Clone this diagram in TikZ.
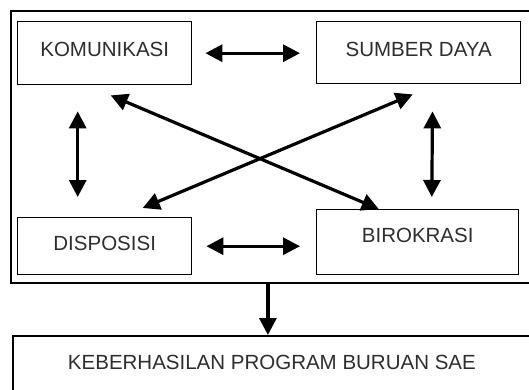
\documentclass[tikz,border=0pt]{standalone}
\usepackage{fontspec}
\setmainfont{Liberation Sans}
\usepackage{tikz}
\usetikzlibrary{arrows.meta}
\definecolor{txt}{rgb}{0.18, 0.18, 0.18}
\tikzstyle{every box node}=[draw, rectangle, inner sep=0pt, line width=1.4pt, anchor=north west, text=txt, font=\fontsize{20.5}{22}\selectfont]
\tikzstyle{biarrow}=[line width=3.2pt, {Triangle[length=17pt,width=17pt]}-{Triangle[length=17pt,width=17pt]}]
\tikzstyle{onearrow}=[line width=3.2pt, -{Triangle[length=17pt,width=17pt]}]

\begin{document}
\begin{tikzpicture}[x=1pt,y=-1pt]
\useasboundingbox (0,0) rectangle (529,389);
\clip (0,0) rectangle (529,389);
\node[every box node, line width=1.8pt, minimum width=522pt, minimum height=272pt] (outer) at (10,10) {};
\node[every box node, minimum width=174pt, text height=34.3pt, text depth=28.7pt] (kom) at (17,21) {KOMUNIKASI};
\node[every box node, minimum width=204pt, text height=34.3pt, text depth=27.7pt] (sum) at (316,21) {SUMBER DAYA};
\node[every box node, minimum width=174pt, text height=32.3pt, text depth=24.7pt] (dis) at (17,217) {DISPOSISI};
\node[every box node, minimum width=202pt, text height=32.3pt, text depth=32.7pt] (bir) at (316,209) {BIROKRASI};
\node[every box node, line width=1.8pt, minimum width=518pt, text height=33.3pt, text depth=40pt] (kb) at (12,335) {KEBERHASILAN PROGRAM BURUAN SAE};
\draw[biarrow, shorten <=13pt, shorten >=16pt] (kom.east) -- (kom.east -| sum.west);
\draw[biarrow, shorten <=14pt, shorten >=16pt] (dis.east) -- (dis.east -| bir.west);
\draw[biarrow, shorten <=26pt, shorten >=20pt] ([xshift=-27pt]kom.south) -- ([xshift=-27pt]dis.north);
\draw[biarrow, shorten <=27pt, shorten >=12pt] ([xshift=14pt]sum.south) -- ([xshift=14pt]bir.north);
\draw[biarrow] ([shift={(6,10)}]kom.south) -- ([shift={(-39,0)}]bir.north);
\draw[biarrow] ([shift={(-6,10)}]sum.south) -- ([shift={(38,-9)}]dis.north);
\draw[onearrow] ([xshift=-4pt]outer.south) -- ([xshift=-4pt]kb.north);
%\draw[onearrow] (outer.south) -- (kb.north);
\end{tikzpicture}
\end{document}
